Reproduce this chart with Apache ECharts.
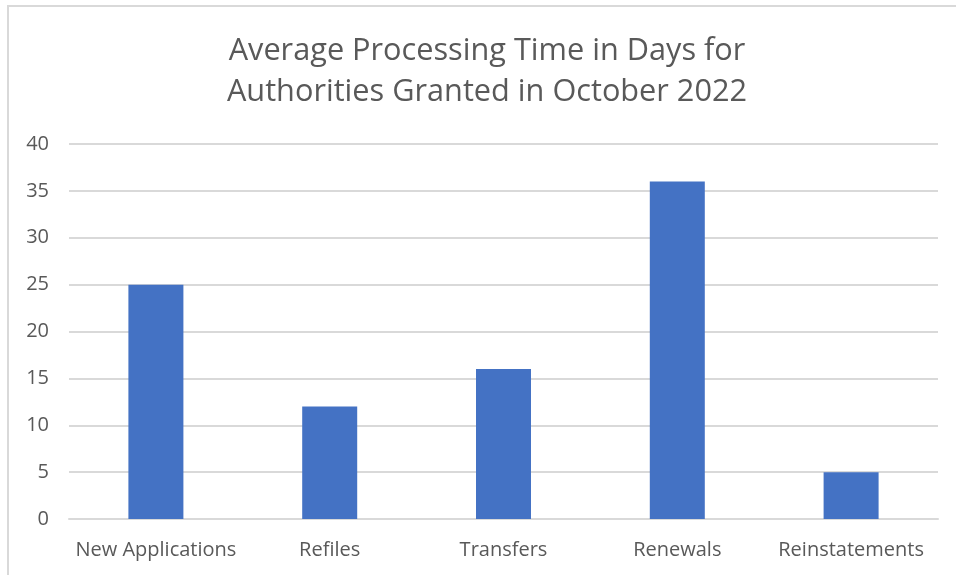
<!DOCTYPE html>
<html>
<head>
<meta charset="utf-8">
<script src="https://cdn.jsdelivr.net/npm/echarts@6/dist/echarts.min.js"></script>
<style>
  html, body { margin: 0; padding: 0; background: #fff; }
  #frame {
    position: absolute; left: 7px; top: 5px; width: 960px; height: 580px;
    border-left: 2px solid #d9d9d9; border-top: 2px solid #d9d9d9;
  }
  #main { position: absolute; left: 0; top: 0; width: 956px; height: 575px; }
</style>
</head>
<body>
<div id="frame"></div>
<div id="main"></div>
<script>
// chart data
const categories = ['New Applications', 'Refiles', 'Transfers', 'Renewals', 'Reinstatements']
const avgDays = [25, 12, 16, 36, 5]
const titleText = 'Average Processing Time in Days for\nAuthorities Granted in October 2022'

const myChart = echarts.init(document.getElementById('main'))
const option = {
  animation: false,
  title: {
    text: titleText,
    left: 482,
    top: 26,
    textAlign: 'center',
    textStyle: {
      fontFamily: 'Open Sans',
      fontSize: 30.7,
      fontWeight: 'normal',
      color: '#595959',
      lineHeight: 41
    }
  },
  grid: {
    left: 69,
    right: 18,
    top: 144,
    bottom: 56
  },
  xAxis: {
    type: 'category',
    data: categories,
    axisLine: { lineStyle: { color: '#d9d9d9', width: 2 } },
    axisTick: { show: false },
    axisLabel: {
      margin: 21,
      fontFamily: 'Open Sans',
      fontSize: 20,
      color: '#595959',
      interval: 0
    }
  },
  yAxis: {
    type: 'value',
    min: 0,
    max: 40,
    interval: 5,
    axisLine: { show: false },
    axisTick: { show: false },
    splitLine: { lineStyle: { color: '#d9d9d9', width: 2 } },
    axisLabel: {
      margin: 20,
      fontFamily: 'Open Sans',
      fontSize: 20,
      color: '#595959'
    }
  },
  series: [
    {
      type: 'bar',
      data: avgDays,
      barWidth: 55,
      itemStyle: { color: '#4472c4' }
    }
  ]
}
myChart.setOption(option)
</script>
</body>
</html>
